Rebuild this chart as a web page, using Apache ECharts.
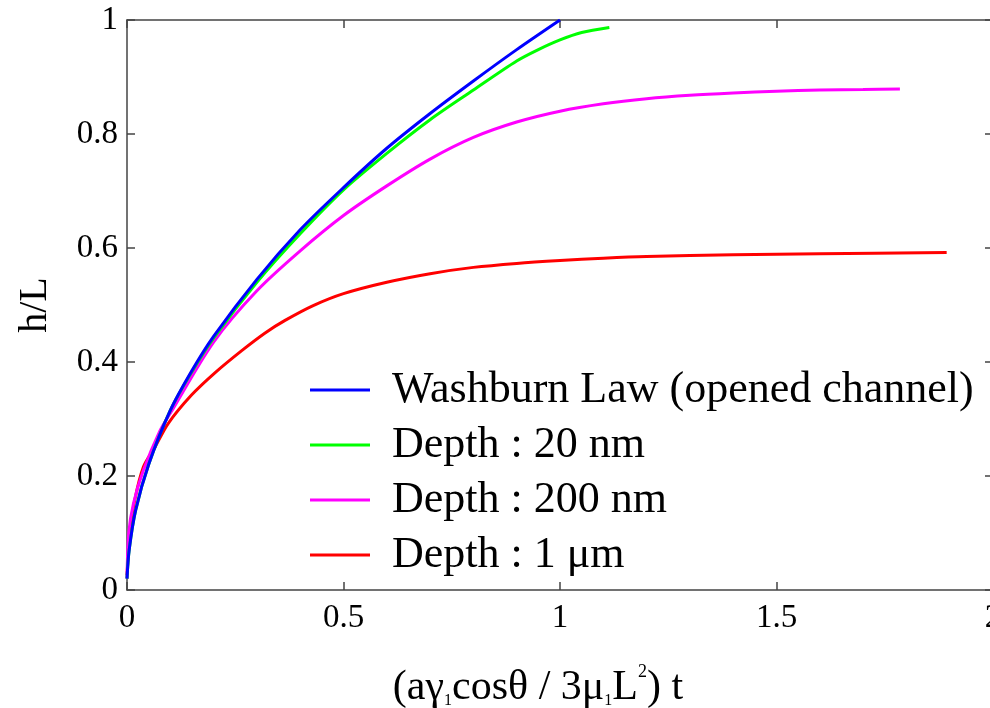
<!DOCTYPE html>
<html>
<head>
<meta charset="utf-8">
<script src="https://cdn.jsdelivr.net/npm/echarts@6/dist/echarts.min.js"></script>
<style>
html,body{margin:0;padding:0;background:#fff;}
#chart{width:990px;height:708px;}
</style>
</head>
<body>
<div id="chart"></div>
<script>
// Washburn Law (opened channel)
const washT = [0, 0.005, 0.02, 0.05, 0.1, 0.15, 0.2, 0.3, 0.4, 0.5, 0.6, 0.7, 0.8, 0.9, 1.0];
const washH = [0.02, 0.07, 0.14, 0.22, 0.315, 0.385, 0.445, 0.545, 0.632, 0.706, 0.775, 0.836, 0.893, 0.948, 1.0];
// Depth : 20 nm
const d20T = [0, 0.005, 0.02, 0.05, 0.1, 0.15, 0.2, 0.3, 0.4, 0.5, 0.6, 0.7, 0.8, 0.9, 0.95, 1.0, 1.05, 1.114];
const d20H = [0.02, 0.07, 0.14, 0.22, 0.315, 0.383, 0.442, 0.54, 0.625, 0.702, 0.766, 0.825, 0.877, 0.928, 0.948, 0.965, 0.978, 0.987];
// Depth : 200 nm
const d200T = [0, 0.004, 0.015, 0.038, 0.076, 0.1, 0.2, 0.3, 0.4, 0.5, 0.6, 0.7, 0.8, 0.9, 1.0, 1.1, 1.2, 1.3, 1.4, 1.5, 1.6, 1.7, 1.785];
const d200H = [0.02, 0.1, 0.152, 0.21, 0.279, 0.31, 0.435, 0.525, 0.595, 0.657, 0.709, 0.756, 0.794, 0.821, 0.84, 0.853, 0.862, 0.868, 0.872, 0.875, 0.877, 0.878, 0.879];
// Depth : 1 µm
const d1T = [0, 0.007, 0.018, 0.038, 0.065, 0.095, 0.149, 0.203, 0.265, 0.319, 0.365, 0.43, 0.5, 0.6, 0.7, 0.8, 0.9, 1.0, 1.1, 1.2, 1.4, 1.6, 1.893];
const d1H = [0.026, 0.1, 0.158, 0.216, 0.251, 0.292, 0.342, 0.381, 0.42, 0.451, 0.473, 0.499, 0.52, 0.54, 0.555, 0.566, 0.573, 0.578, 0.582, 0.585, 0.588, 0.59, 0.592];

const seriesNames = ['Washburn Law (opened channel)', 'Depth : 20 nm', 'Depth : 200 nm', 'Depth : 1 \u03bcm'];
const seriesColors = ['#0000ff', '#00ff00', '#ff00ff', '#ff0000'];
const xTicks = { min: 0, max: 2, interval: 0.5 };
const yTicks = { min: 0, max: 1, interval: 0.2 };

function pairs(t, h) { return t.map((v, i) => [v, h[i]]); }
const dataSets = [pairs(washT, washH), pairs(d20T, d20H), pairs(d200T, d200H), pairs(d1T, d1H)];

const serif = 'Liberation Serif';
const axisColor = '#444';
const chart = echarts.init(document.getElementById('chart'));

function fmt(v) { return v === 0 ? '0' : (Number.isInteger(v) ? String(v) : String(+v.toFixed(1))); }

const baseAxis = {
  axisLine: { show: true, onZero: false, lineStyle: { color: axisColor, width: 1.5 } },
  axisTick: { show: true, inside: true, length: 8, lineStyle: { color: axisColor, width: 1.5 } },
  splitLine: { show: false }
};

chart.setOption({
  animation: false,
  backgroundColor: '#fff',
  grid: { left: 127, right: -3, top: 20, bottom: 118, containLabel: false, outerBoundsMode: 'none' },
  legend: {
    orient: 'vertical',
    left: 305,
    top: 363,
    itemWidth: 60,
    itemHeight: 3,
    itemGap: 11,
    icon: 'rect',
    data: seriesNames,
    textStyle: { fontFamily: serif, fontSize: 44, color: '#000', padding: [0, 0, 0, 17], lineHeight: 43 }
  },
  xAxis: [
    Object.assign({}, baseAxis, {
      type: 'value', position: 'bottom', min: xTicks.min, max: xTicks.max, interval: xTicks.interval,
      axisLabel: { fontFamily: serif, fontSize: 33, color: '#000', margin: 12, formatter: fmt },
      name: '{n|(a\u03b3}{s|1}{n|cos\u03b8 / 3\u03bc}{s|1}{n|L}{p|2}{n|) t}',
      nameLocation: 'middle',
      nameGap: 73,
      nameTextStyle: {
        padding: [0, 44, 0, 0],
        rich: {
          n: { fontFamily: serif, fontSize: 42, color: '#000', lineHeight: 46, verticalAlign: 'bottom' },
          s: { fontFamily: serif, fontSize: 16, color: '#000', lineHeight: 16, verticalAlign: 'bottom' },
          p: { fontFamily: serif, fontSize: 18, color: '#000', lineHeight: 18, verticalAlign: 'top' }
        }
      }
    }),
    Object.assign({}, baseAxis, {
      type: 'value', position: 'top', min: xTicks.min, max: xTicks.max, interval: xTicks.interval,
      axisLabel: { show: false }
    })
  ],
  yAxis: [
    Object.assign({}, baseAxis, {
      type: 'value', position: 'left', min: yTicks.min, max: yTicks.max, interval: yTicks.interval,
      axisLabel: { fontFamily: serif, fontSize: 33, color: '#000', margin: 9, formatter: fmt },
      name: 'h/L',
      nameLocation: 'middle',
      nameGap: 72,
      nameRotate: 90,
      nameTextStyle: { fontFamily: serif, fontSize: 40, color: '#000' }
    }),
    Object.assign({}, baseAxis, {
      type: 'value', position: 'right', min: yTicks.min, max: yTicks.max, interval: yTicks.interval,
      axisLabel: { show: false }
    })
  ],
  series: seriesNames.map((name, i) => ({
    name: name,
    type: 'line',
    xAxisIndex: 0,
    yAxisIndex: 0,
    data: dataSets[i],
    showSymbol: false,
    symbol: 'none',
    smooth: 0.3,
    color: seriesColors[i],
    lineStyle: { color: seriesColors[i], width: 3 },
    z: 10 - i
  }))
});
</script>
</body>
</html>
